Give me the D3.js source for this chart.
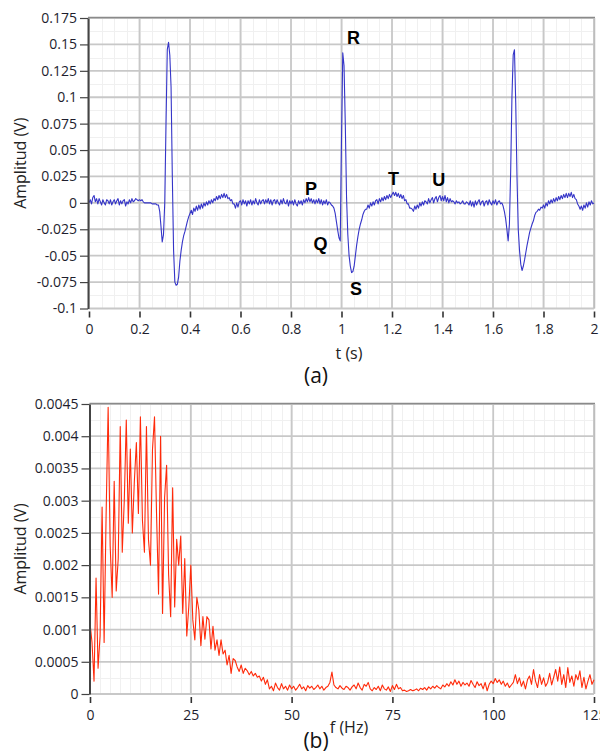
<!DOCTYPE html>
<html>
<head>
<meta charset="utf-8">
<script src="https://cdn.jsdelivr.net/npm/d3@7"></script>
<style>
  body { margin: 0; background: #fff; }
  svg { display: block; font-family: "Open Sans", "Noto Sans", sans-serif; }
</style>
</head>
<body>
<script>
// (a) ECG, 0..2 s, one sample every 5 ms, values in mV
var ecgStep = 0.005;
var ecgMilliVolts = [
  0, 3, -1, 5, 7, 1, 4, -1, 4, 1, -2, 3, 0, -2, 3, 2, -1, 3, -2, 1,
  3, -1, 2, 4, -2, 2, -1, 2, 3, -3, 1, -1, 3, 0, 4, 1, 2, 4, 3, 2,
  3, 2, 3, 1, 0, 0, 0, 0, 0, 0, -1, -1, -1, -1, -2, -2, -8, -22, -37, -30,
  0, 75, 145, 152, 140, 110, 25, -45, -75, -78, -77, -70, -55, -45, -37, -31, -27, -22, -17, -13,
  -10, -7, -11, -5, -8, -3, -7, -2, -6, -1, -5, 0, -3, 1, -2, 2, -1, 3, 0, 4,
  2, 6, 3, 7, 4, 8, 5, 9, 5, 8, 4, 5, 2, 3, -1, -1, -5, 0, -4, 1,
  2, -2, 3, -1, 2, -3, 2, -1, 3, -2, 2, -1, 4, 0, -2, 3, -1, 2, 3, -1,
  3, 0, 4, -1, 3, -2, 2, 3, -1, 3, 0, -2, 3, -1, 4, 0, -1, 3, -3, 2,
  -1, 2, -2, 3, -1, -3, 2, -1, 2, -2, 3, 0, 4, 1, 5, 1, 4, 0, 3, -1,
  3, 0, 4, -1, 3, -2, 2, -1, 3, -2, 1, 0, -2, -3, -5, -10, -18, -26, -33, -36,
  60, 142, 130, 75, 5, -30, -50, -60, -66, -65, -60, -50, -40, -32, -25, -20, -16, -11, -8, -6,
  -6, -2, -5, 0, -3, 1, -2, 2, 3, -1, 4, 1, 5, 2, 6, 3, 7, 4, 8, 5,
  8, 10, 7, 10, 6, 9, 5, 8, 4, 7, 2, 3, -1, -1, -5, -5, -6, -8, -3, -6,
  -2, -5, 0, -3, 1, -2, 2, 1, -1, 4, 0, 3, 5, 0, 4, 6, 1, 5, 7, 2,
  6, 2, 7, 1, 5, 0, 4, 1, 2, 1, -1, 2, 0, 1, -1, 0, 2, -1, -1, 1,
  0, -2, 2, -3, 1, -4, 2, -2, 1, 3, -2, 1, 2, -3, 1, 2, -2, 3, 0, -2,
  2, -1, 3, -2, 1, 2, -1, 0, -3, -8, -15, -25, -36, -20, 30, 100, 140, 145, 95, 25,
  -25, -45, -58, -64, -60, -54, -47, -40, -34, -28, -24, -20, -17, -12, -9, -8, -6, -7, -4, -5,
  -2, -5, 0, -3, 2, -1, 3, 0, 4, 1, 5, 2, 6, 3, 7, 4, 8, 5, 9, 5,
  9, 6, 10, 5, 8, 4, 3, -1, -3, -6, -3, -7, -2, -5, 0, -4, 1, -2, 2, -1,
  0
];
var ecgTicksX = [0, 0.2, 0.4, 0.6, 0.8, 1, 1.2, 1.4, 1.6, 1.8, 2];
var ecgTicksY = [-0.1, -0.075, -0.05, -0.025, 0, 0.025, 0.05, 0.075, 0.1, 0.125, 0.15, 0.175];
var waveNames = ["P", "Q", "R", "S", "T", "U"];
var waveTimes = [0.879, 0.917, 1.048, 1.057, 1.206, 1.385];
var waveVolts = [0.0132, -0.0389, 0.1561, -0.0815, 0.0229, 0.0217];

// (b) amplitude spectrum, 0..125 Hz, one bin every 0.5 Hz, values in mV
var specStep = 0.5;
var specMilliVolts = [
  1.1, 0.8, 0.2, 1.8, 0.4, 0.9, 2.9, 0.8, 2.8, 4.45,
  2.3, 1.5, 3.3, 1.6, 2.1, 4.15, 2.2, 3.0, 4.25, 2.65,
  3.8, 2.5, 3.3, 3.9, 2.8, 4.3, 2.7, 2.2, 4.15, 2.4,
  2.0, 3.8, 4.3, 2.8, 1.55, 4.0, 1.25, 3.05, 3.55, 1.85,
  1.2, 3.2, 1.35, 2.4, 2.0, 2.45, 1.25, 2.1, 0.9, 1.35,
  2.0, 1.15, 0.84, 1.5, 1.3, 0.75, 1.2, 0.85, 1.2, 1.15,
  0.7, 1.05, 0.68, 0.84, 0.6, 0.84, 0.62, 0.68, 0.45, 0.6,
  0.32, 0.55, 0.52, 0.42, 0.35, 0.45, 0.32, 0.4, 0.36, 0.3,
  0.35, 0.28, 0.32, 0.26, 0.28, 0.2, 0.26, 0.15, 0.22, 0.08,
  0.12, 0.05, 0.17, 0.1, 0.06, 0.16, 0.08, 0.12, 0.06, 0.14,
  0.08,
  0.12, 0.06, 0.1, 0.15, 0.08, 0.11, 0.05, 0.13, 0.09, 0.12,
  0.07, 0.1, 0.14, 0.08, 0.12, 0.06, 0.1, 0.12, 0.18, 0.34,
  0.14, 0.1, 0.08, 0.13, 0.09, 0.07, 0.12, 0.1, 0.06, 0.11,
  0.14, 0.08, 0.17, 0.1, 0.06, 0.15, 0.12, 0.18, 0.08, 0.05,
  0.1, 0.07, 0.12, 0.05, 0.14, 0.08, 0.06, 0.11, 0.04, 0.13,
  0.07, 0.15, 0.08, 0.1, 0.05, 0.06, 0.04, 0.05, 0.07, 0.05,
  0.06, 0.08, 0.05, 0.09, 0.07, 0.1, 0.06, 0.11, 0.08, 0.12,
  0.09, 0.13, 0.1, 0.08, 0.14, 0.11, 0.16, 0.12, 0.19, 0.14,
  0.22, 0.15, 0.2, 0.12, 0.18, 0.14, 0.17, 0.12, 0.21, 0.15,
  0.1, 0.19, 0.13, 0.16, 0.08, 0.18, 0.05, 0.15, 0.2, 0.16,
  0.24, 0.18, 0.22, 0.15, 0.2, 0.12, 0.17, 0.1, 0.14, 0.18,
  0.3, 0.16, 0.25, 0.12, 0.2, 0.08, 0.22, 0.28, 0.15, 0.38,
  0.2, 0.1, 0.3, 0.15, 0.25, 0.12, 0.18, 0.32, 0.14, 0.26,
  0.38, 0.2, 0.42, 0.15, 0.3, 0.1, 0.41, 0.18, 0.28, 0.12,
  0.3, 0.22, 0.36, 0.1, 0.26, 0.08, 0.2, 0.3, 0.15, 0.22
];
var specTicksX = [0, 25, 50, 75, 100, 125];
var specTicksY = [0, 0.0005, 0.001, 0.0015, 0.002, 0.0025, 0.003, 0.0035, 0.004, 0.0045];

var svgWidth = 600, svgHeight = 753;
var svg = d3.select("body").append("svg")
  .attr("width", svgWidth)
  .attr("height", svgHeight);

function fmt(d) { return String(Math.round(d * 100000) / 100000); }
function crisp(v) { return Math.round(v) + 0.5; }

function drawPanel(cfg) {
  var x = d3.scaleLinear().domain(cfg.xDomain).range([cfg.x0, cfg.x1]);
  var y = d3.scaleLinear().domain(cfg.yDomain).range([cfg.y0, cfg.y1]);
  var g = svg.append("g");

  // minor grid
  g.selectAll("line.mx").data(cfg.minorX).enter().append("line")
    .attr("x1", d => crisp(x(d))).attr("x2", d => crisp(x(d)))
    .attr("y1", cfg.y1).attr("y2", cfg.y0)
    .attr("stroke", "#f0f0f0").attr("stroke-width", 1);
  g.selectAll("line.my").data(cfg.minorY).enter().append("line")
    .attr("y1", d => crisp(y(d))).attr("y2", d => crisp(y(d)))
    .attr("x1", cfg.left).attr("x2", cfg.x1)
    .attr("stroke", "#f0f0f0").attr("stroke-width", 1);

  // major grid
  g.selectAll("line.gx").data(cfg.ticksX).enter().append("line")
    .attr("x1", d => x(d)).attr("x2", d => x(d))
    .attr("y1", cfg.y1).attr("y2", cfg.y0)
    .attr("stroke", "#c8c8c8").attr("stroke-width", 1.8);
  g.selectAll("line.gy").data(cfg.ticksY).enter().append("line")
    .attr("y1", d => y(d)).attr("y2", d => y(d))
    .attr("x1", cfg.left).attr("x2", cfg.x1)
    .attr("stroke", "#c8c8c8").attr("stroke-width", 1.8);

  // frame: top and right
  g.append("line").attr("x1", cfg.left).attr("x2", cfg.x1 + 1)
    .attr("y1", cfg.y1 - 0.5).attr("y2", cfg.y1 - 0.5)
    .attr("stroke", "#8a8a8a").attr("stroke-width", 1.5);
  g.append("line").attr("x1", cfg.x1 + 0.5).attr("x2", cfg.x1 + 0.5)
    .attr("y1", cfg.y1).attr("y2", cfg.y0)
    .attr("stroke", "#bdbdbd").attr("stroke-width", 1.5);

  // data line
  var line = d3.line()
    .x((d, i) => x(i * cfg.step))
    .y(d => y(d / 1000));
  g.append("path")
    .attr("d", line(cfg.values))
    .attr("fill", "none")
    .attr("stroke", cfg.color)
    .attr("stroke-width", 1.1)
    .attr("stroke-linejoin", "round");

  // y axis
  var ay = g.append("g")
    .attr("transform", "translate(" + cfg.left + ",0)")
    .call(d3.axisLeft(y).tickValues(cfg.ticksY).tickFormat(fmt).tickSize(8).tickSizeOuter(0).tickPadding(3));
  ay.select(".domain").attr("stroke", "#444").attr("stroke-width", 2);
  ay.selectAll(".tick line").attr("stroke", "#444").attr("stroke-width", 1.2);
  ay.selectAll(".tick text").attr("font-size", 14).attr("fill", "#1e1e2e")
    .attr("font-family", "'Open Sans', sans-serif");

  // x axis (ticks hang below the plot, no axis line)
  var ax = g.append("g")
    .attr("transform", "translate(0," + (cfg.y0 + 3) + ")")
    .call(d3.axisBottom(x).tickValues(cfg.ticksX).tickFormat(fmt).tickSize(6).tickPadding(7));
  ax.select(".domain").remove();
  ax.selectAll(".tick line").attr("stroke", "#333").attr("stroke-width", 1.6);
  ax.selectAll(".tick text").attr("font-size", 14).attr("fill", "#1e1e2e")
    .attr("font-family", "'Open Sans', sans-serif");

  // axis titles
  svg.append("text")
    .attr("transform", "translate(" + cfg.yTitleX + "," + ((cfg.y0 + cfg.y1) / 2) + ") rotate(-90)")
    .attr("text-anchor", "middle").attr("dominant-baseline", "central")
    .attr("font-size", 16).attr("fill", "#222")
    .text("Amplitud (V)");
  svg.append("text")
    .attr("x", cfg.xTitleX).attr("y", cfg.xTitleY)
    .attr("text-anchor", "middle").attr("dominant-baseline", "central")
    .attr("font-size", 16).attr("fill", "#222")
    .text(cfg.xTitle);
  svg.append("text")
    .attr("x", 316).attr("y", cfg.tagY)
    .attr("text-anchor", "middle").attr("dominant-baseline", "central")
    .attr("font-size", 21).attr("fill", "#111")
    .text(cfg.tag);

  return { x: x, y: y, g: g };
}

var panelA = drawPanel({
  xDomain: [0, 2], yDomain: [-0.1, 0.175],
  x0: 89, x1: 594, y0: 308.5, y1: 18, left: 88,
  step: ecgStep, values: ecgMilliVolts, color: "#3535c8",
  ticksX: ecgTicksX, ticksY: ecgTicksY,
  minorX: d3.range(0.05, 2, 0.05), minorY: d3.range(-0.0875, 0.175, 0.025),
  yTitleX: 20, xTitle: "t (s)", xTitleX: 349, xTitleY: 353,
  tag: "(a)", tagY: 375
});

// P Q R S T U labels, placed in data coordinates
panelA.g.selectAll("text.wave").data(waveNames).enter().append("text")
  .attr("x", (d, i) => panelA.x(waveTimes[i]))
  .attr("y", (d, i) => panelA.y(waveVolts[i]))
  .attr("text-anchor", "middle").attr("dominant-baseline", "central")
  .attr("font-family", "'Liberation Sans', Arial, sans-serif")
  .attr("font-weight", "bold").attr("font-size", 18).attr("fill", "#000")
  .text(d => d);

drawPanel({
  xDomain: [0, 125], yDomain: [0, 0.0045],
  x0: 90, x1: 594, y0: 694, y1: 404, left: 89.5,
  step: specStep, values: specMilliVolts, color: "#ff2a0a",
  ticksX: specTicksX, ticksY: specTicksY,
  minorX: d3.range(2.5, 125, 2.5), minorY: d3.range(0.00025, 0.0045, 0.0005),
  yTitleX: 20, xTitle: "f (Hz)", xTitleX: 349, xTitleY: 727,
  tag: "(b)", tagY: 740
});
</script>
</body>
</html>
